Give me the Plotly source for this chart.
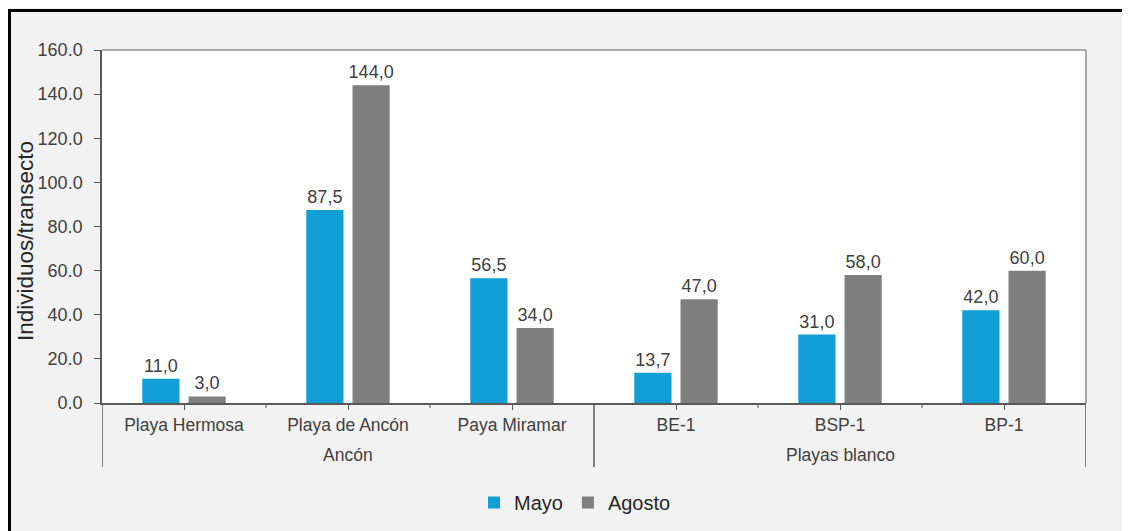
import plotly.graph_objects as go

groups = ["Ancón", "Playas blanco"]
group_sizes = [3, 3]
sites = ["Playa Hermosa", "Playa de Ancón", "Paya Miramar", "BE-1", "BSP-1", "BP-1"]
mayo = [11.0, 87.5, 56.5, 13.7, 31.0, 42.0]
agosto = [3.0, 144.0, 34.0, 47.0, 58.0, 60.0]
y_ticks = [0, 20, 40, 60, 80, 100, 120, 140, 160]


def fmt(v):
    return f"{v:.1f}".replace(".", ",")


FONT = "Liberation Sans, Arial, sans-serif"
TXT = "#404040"

fig = go.Figure()
fig.add_trace(go.Bar(
    x=sites, y=mayo, name="Mayo",
    marker=dict(color="#129fd7", line=dict(width=0)),
    text=[fmt(v) for v in mayo], textposition="outside", constraintext="none",
    textfont=dict(size=18, color=TXT, family=FONT), cliponaxis=False,
))
fig.add_trace(go.Bar(
    x=sites, y=agosto, name="Agosto",
    marker=dict(color="#7f7f7f", line=dict(width=0)),
    text=[fmt(v) for v in agosto], textposition="outside", constraintext="none",
    textfont=dict(size=18, color=TXT, family=FONT), cliponaxis=False,
))

# page has an 8px body margin; figure sits at (8, 8)
W, H = 1122, 523
L, R, T, B = 94, 44, 42, 128
pw, ph = W - L - R, H - T - B

shapes = []
# outer frame (black)
shapes.append(dict(type="rect", xref="paper", yref="paper",
                   x0=(1.5 - L) / pw, x1=1.3, y0=-0.6, y1=1 + (T - 2.5) / ph,
                   line=dict(color="black", width=3), layer="below"))
# top and right border of plot area
shapes.append(dict(type="line", xref="paper", yref="paper", x0=0, x1=1, y0=1, y1=1,
                   line=dict(color="#8c8c8c", width=1.5)))
shapes.append(dict(type="line", xref="paper", yref="paper", x0=1, x1=1, y0=0, y1=1,
                   line=dict(color="#8c8c8c", width=1.5)))
# small ticks between sites within a group, and group dividers
annotations = []
start = 0
bounds = [-0.5]
for g, n in zip(groups, group_sizes):
    for k in range(1, n):
        p = start + k - 0.5
        shapes.append(dict(type="line", xref="x", yref="paper", x0=p, x1=p, y0=0, y1=-5 / ph,
                           line=dict(color="#595959", width=1)))
    annotations.append(dict(x=start + (n - 1) / 2, xref="x", y=-(455 - 403) / ph, yref="paper",
                            text=g, showarrow=False, yanchor="middle",
                            font=dict(size=17.5, color=TXT, family=FONT)))
    start += n
    bounds.append(start - 0.5)
for p in bounds:
    shapes.append(dict(type="line", xref="x", yref="paper", x0=p, x1=p, y0=0, y1=-(467 - 403) / ph,
                       line=dict(color="#595959", width=1.5)))

# y-axis title as a rotated annotation
annotations.append(dict(text="Individuos/transecto", textangle=-90, showarrow=False,
                        xref="paper", yref="paper", x=(17 - L) / pw, xanchor="center",
                        y=1 - (241 - 8 - T) / ph, yanchor="middle",
                        font=dict(size=22.5, color="#262626", family=FONT)))

fig.update_layout(
    width=W, height=H,
    margin=dict(l=L, r=R, t=T, b=B, autoexpand=False),
    paper_bgcolor="#f2f2f2", plot_bgcolor="white",
    font=dict(family=FONT, size=17, color=TXT),
    barmode="group", bargap=0.436, bargroupgap=0.196,
    showlegend=True,
    legend=dict(orientation="h", x=(567 - L) / pw, xanchor="center", y=-(483 - 403) / ph,
                yanchor="top", font=dict(size=20, color="#262626"), itemwidth=30,
                traceorder="normal"),
    shapes=shapes,
    annotations=annotations,
    xaxis=dict(
        type="category", range=[-0.5, 5.5], showline=True, linecolor="#595959", linewidth=1.5,
        ticks="outside", ticklen=5, tickcolor="#595959", automargin=False,
        tickfont=dict(size=17.5, color=TXT), showgrid=False,
    ),
    yaxis=dict(
        range=[0, 160], tickvals=y_ticks, tickformat=".1f", automargin=False,
        showline=True, linecolor="#595959", linewidth=1.5,
        ticks="outside", ticklen=6, tickcolor="#595959", showgrid=False, zeroline=False,
        tickfont=dict(size=18, color=TXT), ticklabelstandoff=8,
    ),
)

fig.write_html("out.html")
